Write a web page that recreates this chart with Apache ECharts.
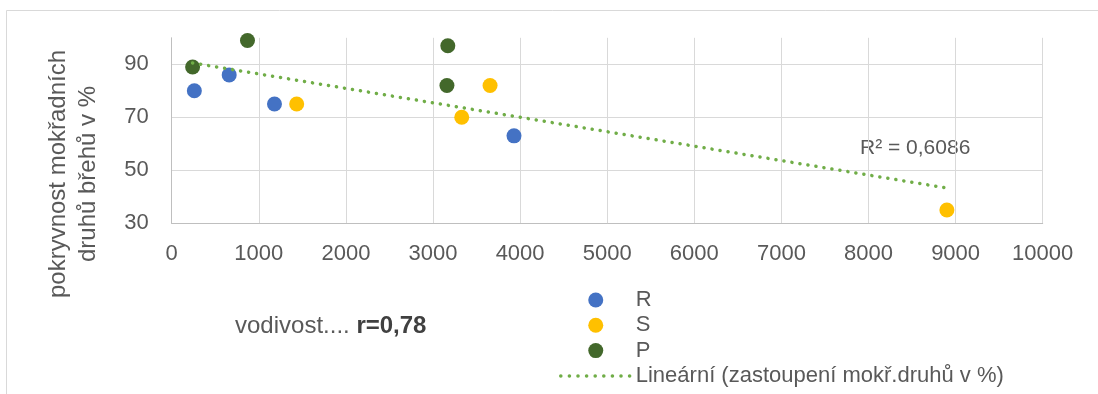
<!DOCTYPE html>
<html>
<head>
<meta charset="utf-8">
<script src="https://cdn.jsdelivr.net/npm/echarts@6/dist/echarts.min.js"></script>
<style>
  html, body { margin: 0; padding: 0; background: #ffffff; }
  #chart { width: 1098px; height: 394px; }
</style>
</head>
<body>
<div id="chart"></div>
<script>
// ---- data ----
const seriesNames = ['R', 'S', 'P'];
const rX = [260, 660, 1180, 3930];
const rY = [80, 86, 75, 63];
const sX = [1435, 3330, 3655, 8900];
const sY = [75, 70, 82, 35];
const pX = [240, 870, 3170, 3160];
const pY = [89, 99, 97, 82];
const trendName = 'Lineární (zastoupení mokř.druhů v %)';
const trendX = [240, 8900];
const trendY = [90.5, 43.3];
const yTickLabels = [30, 50, 70, 90];
const yTitle = 'pokryvnost mokřadních\ndruhů břehů v %';
const r2Text = 'R² = 0,6086';
const noteText = 'vodivost.... ';
const noteBold = 'r=0,78';

// ---- styles ----
const FONT = 'Liberation Sans';
const TXT = '#595959';
const colors = ['#4472c4', '#ffc000', '#43682b'];
const trendColor = '#70ad47';

function pairs(xs, ys) { return xs.map((x, i) => [x, ys[i]]); }

const chart = echarts.init(document.getElementById('chart'), null, { renderer: 'canvas' });

const scatterSeries = [pairs(rX, rY), pairs(sX, sY), pairs(pX, pY)].map((d, i) => ({
  name: seriesNames[i],
  type: 'scatter',
  data: d,
  symbol: 'circle',
  symbolSize: 15,
  itemStyle: { color: colors[i], opacity: 1 },
  z: 3
}));

const option = {
  animation: false,
  backgroundColor: '#ffffff',
  textStyle: { fontFamily: FONT },
  grid: { left: 171.7, right: 55.3, top: 37.8, bottom: 170.7, containLabel: false },
  xAxis: {
    type: 'value',
    min: 0, max: 10000, interval: 1000,
    axisLine: { show: true, lineStyle: { color: '#bfbfbf', width: 1 } },
    axisTick: { show: false },
    axisLabel: { color: TXT, fontSize: 22, fontFamily: FONT, margin: 20, formatter: v => String(v) },
    splitLine: { show: true, lineStyle: { color: '#d9d9d9', width: 1 } }
  },
  yAxis: {
    type: 'value',
    min: 30, max: 100, interval: 10,
    axisLine: { show: true, lineStyle: { color: '#bfbfbf', width: 1 } },
    axisTick: { show: false },
    axisLabel: {
      color: TXT, fontSize: 22, fontFamily: FONT, margin: 23,
      showMaxLabel: false,
      formatter: v => (yTickLabels.indexOf(v) >= 0 ? String(v) : '')
    },
    splitLine: {
      show: true,
      showMaxLine: false,
      lineStyle: { color: ['#d9d9d9', 'rgba(0,0,0,0)'], width: 1 }
    }
  },
  legend: {
    orient: 'vertical',
    left: 559,
    top: 289,
    height: 105,
    padding: 0,
    itemWidth: 70,
    itemHeight: 15,
    itemGap: 3.3,
    selectedMode: false,
    textStyle: { color: TXT, fontSize: 22, fontFamily: FONT, lineHeight: 22 },
    data: [
      { name: 'R', icon: 'circle' },
      { name: 'S', icon: 'circle' },
      { name: 'P', icon: 'circle' },
      {
        name: trendName,
        itemStyle: { color: 'rgba(0,0,0,0)', borderWidth: 0, opacity: 0 },
        lineStyle: { color: trendColor, width: 3.5, type: [0.1, 8.5], cap: 'round' }
      }
    ]
  },
  series: scatterSeries.concat([{
    name: trendName,
    type: 'line',
    data: pairs(trendX, trendY),
    symbol: 'none',
    showSymbol: false,
    z: 4,
    lineStyle: { color: trendColor, width: 3.5, type: [0.1, 8], cap: 'round' },
    itemStyle: { color: trendColor }
  }]),
  graphic: [
    {
      type: 'rect',
      shape: { x: 6.5, y: 10.5, width: 1200, height: 500 },
      style: { fill: 'none', stroke: '#d9d9d9', lineWidth: 1 },
      silent: true, z: -10
    },
    {
      type: 'text',
      x: 73, y: 174,
      rotation: Math.PI / 2,
      style: {
        text: yTitle,
        fill: TXT,
        fontSize: 24,
        fontFamily: FONT,
        lineHeight: 30,
        align: 'center',
        verticalAlign: 'middle'
      }
    },
    {
      type: 'text',
      x: 860, y: 148,
      style: {
        text: r2Text,
        fill: TXT,
        fontSize: 21,
        fontFamily: FONT,
        align: 'left',
        verticalAlign: 'middle'
      }
    },
    {
      type: 'text',
      x: 235, y: 326,
      style: {
        text: '{a|' + noteText + '}{b|' + noteBold + '}',
        align: 'left',
        verticalAlign: 'middle',
        rich: {
          a: { fill: TXT, color: TXT, fontSize: 24, fontFamily: FONT },
          b: { fill: '#404040', color: '#404040', fontSize: 24, fontFamily: FONT, fontWeight: 'bold' }
        }
      }
    }
  ]
};

chart.setOption(option);
</script>
</body>
</html>
